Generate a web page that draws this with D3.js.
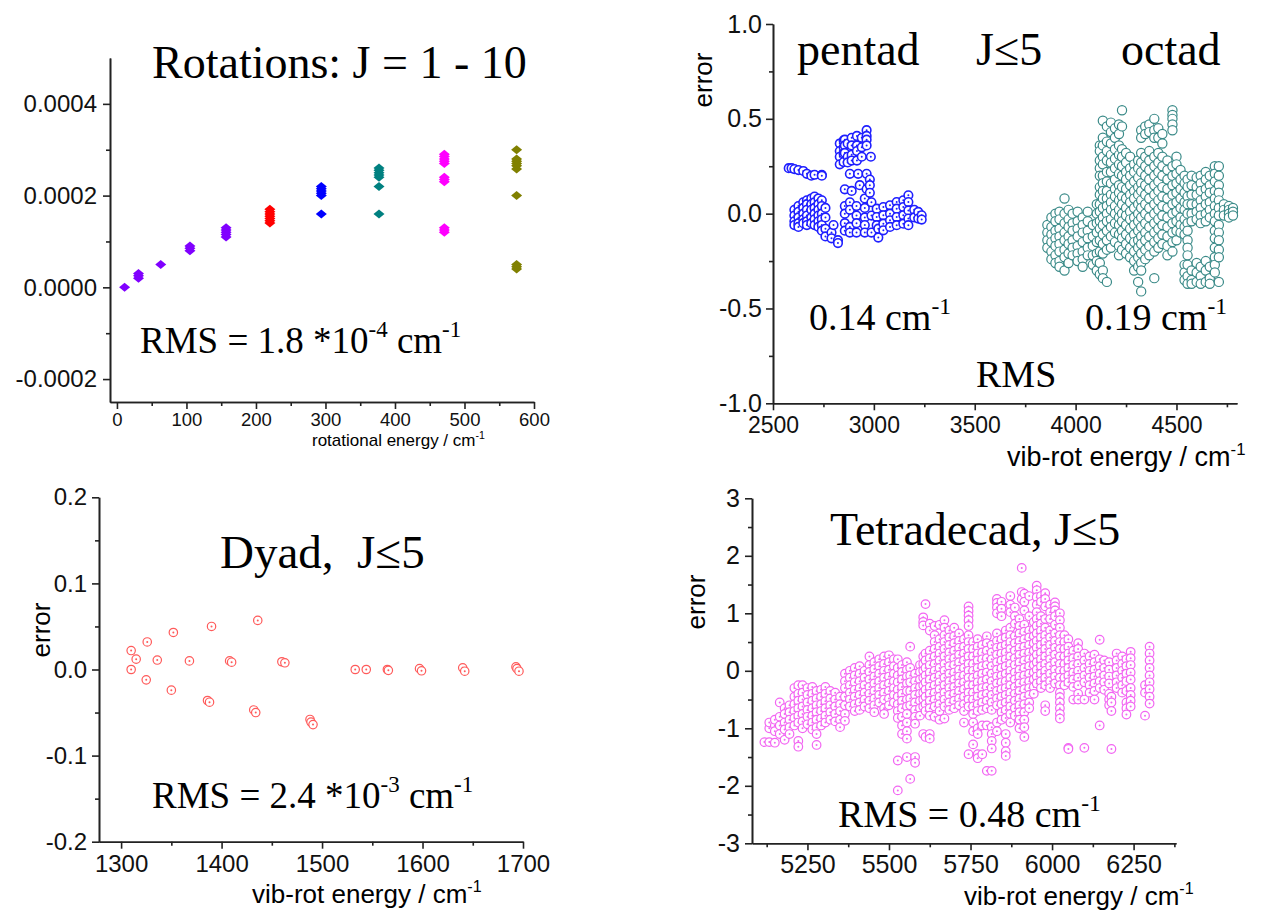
<!DOCTYPE html>
<html>
<head>
<meta charset="utf-8">
<script src="https://cdn.jsdelivr.net/npm/d3@7"></script>
<style>
  body { margin: 0; background: #fff; }
  svg { display: block; }
  .axis path, .axis line { stroke: #222; stroke-width: 1.6; }
  .axis text { fill: #111; font-family: "Liberation Sans", Arial, sans-serif; }
</style>
</head>
<body>
<svg id="chart" width="1262" height="910"></svg>
<script>
// ---- rotations panel (J = 1..10) ----
const rotEnergy = [11, 31, 63, 105, 157, 220, 294, 377, 471, 575];
const rotErrors = [
  [0],
  [0.00002, 0.000025, 0.00003],
  [0.00005],
  [0.00008, 0.000085, 0.00009],
  [0.00011, 0.000115, 0.00012, 0.000125, 0.00013],
  [0.00014, 0.000145, 0.00015, 0.000155, 0.00016, 0.000165, 0.00017],
  [0.00016, 0.0002, 0.000205, 0.00021, 0.000215, 0.00022],
  [0.00016, 0.00022, 0.00024, 0.000245, 0.00025, 0.000255, 0.00026],
  [0.00012, 0.000125, 0.00013, 0.00023, 0.000235, 0.00024, 0.00027, 0.000275, 0.00028, 0.000285, 0.00029],
  [0.00004, 0.000045, 0.00005, 0.0002, 0.000258, 0.000265, 0.00027, 0.000275, 0.00028, 0.0003]
];
const rotColors = ["#8000ff", "#8000ff", "#8000ff", "#8000ff", "#8000ff", "#ff0000", "#0000ff", "#008080", "#ff00ff", "#808000"];

// ---- pentad (energy, errors in that column) ----
const pentadCols = [
  [2578, [0.24]], [2592, [0.24]], [2606, [0.235, 0.02, -0.01, -0.04, -0.06]], [2626, [0.23, 0.04, 0.01, -0.02, -0.05, -0.07]],
  [2650, [0.225, 0.06, 0.03, 0, -0.03, -0.05]], [2668, [0.21, 0.07, 0.05, 0.02, -0.01, -0.04, -0.06]],
  [2690, [0.2, 0.08, 0.05, 0.02, -0.02, -0.05]], [2706, [0.205, 0.09, 0.06, 0.03, 0, -0.03, -0.06]],
  [2725, [0.08, 0.05, 0.02, -0.01, -0.04, -0.07]], [2742, [0.205, 0.2, 0.07, 0.04, 0, -0.03, -0.06, -0.09]],
  [2760, [0.03, -0.02, -0.08, -0.12]], [2790, [-0.1, -0.13]], [2800, [-0.06]], [2822, [-0.14, -0.155]],
  [2831, [0.37, 0.33, 0.3, 0.26]], [2850, [0.386, 0.35, 0.316, 0.272]],
  [2856, [0.39, 0.36, 0.32, 0.128, 0.04, 0, -0.05, -0.09]], [2870, [0.37, 0.3, 0.27]],
  [2881, [0.21, 0.06, 0.02, -0.07, -0.1]], [2890, [0.4, 0.36, 0.31, 0.28, 0.12]],
  [2914, [0.04, -0.01, -0.05, -0.1]], [2916, [0.41, 0.36, 0.33, 0.28]], [2922, [0.21]],
  [2930, [0.15]], [2940, [0.4, 0.35, 0.3]], [2955, [0.08, 0.03, -0.02, -0.06, -0.1]],
  [2964, [0.44, 0.41, 0.39, 0.36, 0.21, 0.13]], [2980, [0.18, 0.15, 0.11]], [2985, [0.3]],
  [2988, [0.06, -0.01, -0.1]], [3014, [0.026, -0.018, -0.061]], [3022, [-0.079, -0.126]],
  [3047, [0.035, -0.009, -0.053, -0.088]], [3080, [0.044, 0, -0.035, -0.07]],
  [3113, [0.061, 0.026, -0.018, -0.061]], [3146, [0.07, 0.035, -0.009, -0.053]],
  [3171, [0.097, 0.061, 0.017, -0.026, -0.061]], [3200, [0.02, -0.02]],
  [3220, [0.009, -0.026]], [3237, [-0.009, -0.031]]
];

// ---- octad ----
const octadCols = [
  [3860, [-0.06, -0.1, -0.14, -0.18]], [3880, [-0.02, -0.07, -0.11, -0.15, -0.2, -0.24]],
  [3900, [0, -0.04, -0.09, -0.13, -0.17, -0.22, -0.26]], [3920, [0.01, -0.03, -0.08, -0.12, -0.16, -0.2, -0.25, -0.28]],
  [3945, [0.08, 0, -0.05, -0.1, -0.14, -0.19, -0.23, -0.3]], [3965, [0.02, -0.03, -0.07, -0.12, -0.16, -0.21, -0.26]],
  [3985, [0, -0.05, -0.09, -0.14, -0.18, -0.22]], [4010, [0.01, -0.04, -0.08, -0.12, -0.17, -0.21, -0.25]],
  [4035, [-0.02, -0.06, -0.1, -0.15, -0.2, -0.24, -0.28]], [4060, [0.01, -0.04, -0.09, -0.13, -0.18, -0.22]],
  [4085, [-0.06, -0.12, -0.17, -0.22, -0.27]], [4105, [0.05, 0, -0.05, -0.1, -0.15, -0.21, -0.25, -0.3]],
  [4120, [0.36, 0.33, 0.28, 0.24, 0.2, 0.14, 0.1, 0.05, 0.01, -0.04, -0.08, -0.14, -0.2, -0.26, -0.32]],
  [4135, [0.49, 0.4, 0.36, 0.3, 0.26, 0.2, 0.16, 0.12, 0.08, 0.03, -0.02, -0.06, -0.11, -0.16, -0.21, -0.3, -0.34]],
  [4155, [0.46, 0.38, 0.33, 0.28, 0.22, 0.17, 0.12, 0.08, 0.04, 0, -0.04, -0.09, -0.14, -0.19, -0.36]],
  [4175, [0.48, 0.43, 0.37, 0.31, 0.27, 0.22, 0.16, 0.1, 0.06, 0.02, -0.03, -0.07, -0.12, -0.18]],
  [4195, [0.45, 0.4, 0.34, 0.29, 0.24, 0.18, 0.13, 0.09, 0.04, 0, -0.05, -0.1, -0.15]],
  [4215, [0.47, 0.42, 0.36, 0.31, 0.26, 0.21, 0.15, 0.11, 0.07, 0.02, -0.02, -0.06, -0.11, -0.17, -0.22]],
  [4230, [0.545, 0.46, 0.34, 0.3, 0.25, 0.2, 0.14, 0.09, 0.05, 0, -0.04, -0.09, -0.13, -0.19]],
  [4250, [0.32, 0.27, 0.22, 0.18, 0.13, 0.08, 0.03, -0.01, -0.06, -0.11, -0.16, -0.21]],
  [4270, [0.3, 0.24, 0.2, 0.15, 0.1, 0.06, 0.01, -0.03, -0.08, -0.13, -0.18, -0.23]],
  [4290, [0.26, 0.22, 0.17, 0.12, 0.08, 0.03, -0.02, -0.06, -0.11, -0.15, -0.2, -0.25, -0.3]],
  [4310, [0.28, 0.24, 0.19, 0.14, 0.1, 0.05, 0, -0.04, -0.09, -0.14, -0.18, -0.23, -0.28, -0.36]],
  [4325, [0.44, 0.4, 0.32, 0.27, 0.22, 0.16, 0.12, 0.07, 0.03, -0.02, -0.07, -0.12, -0.16, -0.21, -0.26, -0.3, -0.41]],
  [4345, [0.46, 0.42, 0.3, 0.25, 0.2, 0.15, 0.1, 0.05, 0, -0.05, -0.1, -0.14, -0.19, -0.24]],
  [4365, [0.47, 0.43, 0.33, 0.28, 0.23, 0.18, 0.13, 0.08, 0.03, -0.02, -0.07, -0.12, -0.17, -0.22]],
  [4390, [0.5, 0.44, 0.4, 0.3, 0.25, 0.2, 0.15, 0.1, 0.05, 0, -0.05, -0.1, -0.15, -0.2, -0.34]],
  [4410, [0.45, 0.4, 0.32, 0.27, 0.22, 0.17, 0.12, 0.07, 0.02, -0.03, -0.08, -0.13, -0.18]],
  [4430, [0.42, 0.37, 0.3, 0.25, 0.2, 0.14, 0.09, 0.04, -0.01, -0.06, -0.11, -0.16]],
  [4455, [0.28, 0.23, 0.18, 0.13, 0.08, 0.03, -0.02, -0.07, -0.12, -0.17, -0.22]],
  [4480, [0.545, 0.52, 0.5, 0.47, 0.44, 0.25, 0.2, 0.15, 0.1, 0.05, 0, -0.05, -0.1, -0.15, -0.2]],
  [4500, [0.3, 0.26, 0.21, 0.16, 0.11, 0.06, 0.01, -0.04, -0.09, -0.14]],
  [4520, [0.23, 0.18, 0.13, 0.08, 0.03, -0.02, -0.06, -0.1]],
  [4540, [0.2, 0.16, 0.11, 0.06, 0.02, -0.03, -0.07, -0.11, -0.27, -0.31, -0.35]],
  [4555, [0.18, 0.14, 0.09, 0.05, 0, -0.05, -0.09, -0.14, -0.18, -0.22, -0.27, -0.33, -0.37]],
  [4575, [0.2, 0.15, 0.1, 0.05, 0, -0.04, -0.3, -0.35, -0.37]],
  [4600, [0.19, 0.14, 0.1, 0.05, 0.01, -0.03, -0.26, -0.31, -0.36]],
  [4620, [0.2, 0.16, 0.12, 0.07, 0.03, -0.01, -0.05, -0.28, -0.33, -0.37]],
  [4645, [0.22, 0.18, 0.13, 0.09, 0.05, 0, -0.04, -0.25, -0.3, -0.36]],
  [4665, [0.2, 0.15, 0.11, 0.06, 0.02, -0.02, -0.28, -0.34, -0.37]],
  [4690, [0.25, 0.21, 0.17, 0.12, 0.08, 0.04, 0, -0.04, -0.09, -0.13, -0.18, -0.23, -0.27, -0.31]],
  [4710, [0.25, 0.2, 0.15, 0.11, 0.07, 0.03, -0.01, -0.06, -0.1, -0.14, -0.19, -0.23, -0.36]],
  [4735, [0.05, 0.02, -0.01]], [4760, [0.04, 0.02, 0, -0.02]], [4780, [0.03, 0.01, -0.01]]
];

// ---- dyad ----
const dyadPoints = [
  [1310, 0.022], [1310, 0], [1315, 0.012], [1326, 0.032], [1325, -0.012], [1336, 0.011],
  [1352, 0.043], [1350, -0.024], [1368, 0.01], [1390, 0.05], [1386, -0.036], [1388, -0.038],
  [1408, 0.01], [1410, 0.0085], [1436, 0.057], [1432, -0.047], [1434, -0.05],
  [1460, 0.009], [1463, 0.0078], [1488, -0.058], [1489, -0.061], [1491, -0.064],
  [1533, 0], [1544, 0], [1565, 0], [1566, -0.001], [1597, 0.001], [1599, -0.0015],
  [1640, 0.002], [1642, -0.002], [1693, 0.003], [1694, 0.001], [1696, -0.002]
];

// ---- tetradecad ----
const tetraCols = [
  [5118, [-1.24]], [5133, [-1.24, -1.0, -0.9]], [5150, [-1.25, -0.95, -0.85, -1.05]],
  [5165, [-0.55, -0.8, -0.95, -1.1]], [5180, [-0.65, -0.75, -0.9, -1.02, -1.2]],
  [5195, [-0.6, -0.72, -0.85, -0.98, -1.1]], [5210, [-0.3, -0.45, -0.58, -0.7, -0.82, -0.95]],
  [5222, [-0.25, -0.4, -0.52, -0.65, -0.78, -0.9, -1.22, -1.32]], [5235, [-0.25, -0.38, -0.5, -0.62, -0.75, -0.88, -1.0]],
  [5250, [-0.3, -0.42, -0.55, -0.68, -0.8, -0.93]], [5265, [-0.28, -0.4, -0.52, -0.65, -0.78, -0.9, -1.02]],
  [5278, [-0.35, -0.48, -0.6, -0.72, -0.85, -0.98, -1.1, -1.29]], [5292, [-0.33, -0.45, -0.58, -0.7, -0.83, -0.95]],
  [5305, [-0.28, -0.4, -0.53, -0.65, -0.78, -0.9]], [5320, [-0.35, -0.48, -0.6, -0.72, -0.85]],
  [5335, [-0.38, -0.5, -0.62, -0.75, -0.88]], [5350, [-0.45, -0.58, -0.7, -0.85, -0.98]],
  [5365, [-0.05, -0.18, -0.3, -0.45, -0.6, -0.75, -0.87]], [5380, [0, -0.12, -0.25, -0.38, -0.5, -0.62]],
  [5395, [0.05, -0.08, -0.2, -0.33, -0.45, -0.58, -0.7]], [5410, [0.08, -0.05, -0.18, -0.3, -0.42, -0.55, -0.68]],
  [5425, [0, -0.12, -0.25, -0.38, -0.5, -0.62]], [5440, [0.25, 0.1, -0.02, -0.15, -0.28, -0.4, -0.52, -0.65]],
  [5455, [0.15, 0.03, -0.1, -0.22, -0.35, -0.48, -0.6, -0.72]], [5470, [0.2, 0.08, -0.05, -0.18, -0.3, -0.42, -0.55]],
  [5485, [0.25, 0.12, 0, -0.12, -0.25, -0.38, -0.5, -0.65, -0.75]], [5500, [0.27, 0.15, 0.02, -0.1, -0.22, -0.35, -0.48, -0.6]],
  [5515, [0.2, 0.08, -0.05, -0.18, -0.3, -0.42, -0.55]],
  [5527, [0.2, 0.05, -0.08, -0.2, -0.33, -0.45, -0.58, -0.7, -0.82, -1.56, -2.08]],
  [5540, [0.1, -0.02, -0.15, -0.28, -0.4, -0.52, -0.65, -0.8, -0.95, -1.1]],
  [5555, [0.15, 0.02, -0.1, -0.22, -0.35, -0.5, -0.62, -0.75, -0.9, -1.05, -1.18, -1.5]],
  [5565, [0.42, 0.05, -0.08, -0.2, -0.35, -0.48, -0.6, -1.88]],
  [5580, [-0.05, -0.18, -0.3, -0.42, -0.55, -0.68, -0.8, -0.92, -1.5, -1.6]],
  [5595, [0.1, -0.02, -0.15, -0.28, -0.4, -0.52, -0.65, -0.78]],
  [5605, [0.93, 0.85, 0.79, 0.25, 0.12, 0, -0.12, -0.25, -0.38, -0.5, -0.62, -1.1]],
  [5612, [1.16, 0.3, 0.18, 0.05, -0.08, -0.2, -0.33, -0.45, -0.58, -0.7, -1.15]],
  [5625, [0.82, 0.7, 0.35, 0.22, 0.1, -0.03, -0.15, -0.28, -0.4, -0.52, -0.65, -0.78, -1.1, -1.18]],
  [5640, [0.78, 0.62, 0.5, 0.38, 0.25, 0.12, 0, -0.12, -0.25, -0.38, -0.5, -0.62, -0.8]],
  [5655, [0.8, 0.55, 0.42, 0.3, 0.18, 0.05, -0.08, -0.2, -0.32, -0.45, -0.58, -0.7, -0.85]],
  [5670, [0.88, 0.75, 0.62, 0.5, 0.38, 0.25, 0.12, 0, -0.12, -0.25, -0.38, -0.5, -0.62, -0.83]],
  [5685, [0.7, 0.58, 0.45, 0.32, 0.2, 0.08, -0.05, -0.18, -0.3, -0.42, -0.55, -0.68]],
  [5700, [0.75, 0.6, 0.48, 0.35, 0.22, 0.1, -0.03, -0.15, -0.28, -0.4, -0.52, -0.65]],
  [5715, [0.65, 0.52, 0.4, 0.28, 0.15, 0.02, -0.1, -0.22, -0.35, -0.48, -0.6]],
  [5730, [0.55, 0.42, 0.3, 0.18, 0.05, -0.08, -0.2, -0.32, -0.45, -0.58, -0.7, -0.9]],
  [5744, [1.12, 1.04, 0.96, 0.88, 0.78, 0.62, 0.5, 0.38, 0.25, 0.12, 0, -0.12, -0.25, -0.38, -0.5, -0.62, -1.45]],
  [5758, [0.5, 0.38, 0.25, 0.12, 0, -0.12, -0.25, -0.38, -0.5, -0.62, -0.75, -0.9, -1.05, -1.28]],
  [5772, [0.55, 0.42, 0.3, 0.18, 0.05, -0.08, -0.2, -0.32, -0.45, -0.58, -0.7, -1.0, -1.1, -1.45, -1.52]],
  [5786, [0.45, 0.32, 0.2, 0.08, -0.05, -0.18, -0.3, -0.42, -0.55, -0.68, -0.95, -1.45]],
  [5800, [0.6, 0.48, 0.35, 0.22, 0.1, -0.03, -0.15, -0.28, -0.4, -0.52, -0.65, -0.95, -1.74]],
  [5815, [0.45, 0.32, 0.2, 0.08, -0.05, -0.18, -0.3, -0.42, -0.55, -0.68, -0.98, -1.1, -1.22, -1.35, -1.74]],
  [5831, [1.25, 1.18, 1.1, 1.0, 0.65, 0.52, 0.4, 0.28, 0.15, 0.02, -0.1, -0.22, -0.35, -0.48, -0.6, -0.9, -1.05]],
  [5845, [1.2, 1.08, 0.95, 0.55, 0.42, 0.3, 0.18, 0.05, -0.08, -0.2, -0.32, -0.45, -0.58, -0.72, -0.85]],
  [5858, [0.7, 0.58, 0.45, 0.32, 0.2, 0.08, -0.05, -0.18, -0.3, -0.42, -0.55, -0.68, -0.82, -1.1, -1.25, -1.4, -1.48]],
  [5872, [1.3, 1.15, 1.02, 0.75, 0.62, 0.5, 0.38, 0.25, 0.12, 0, -0.12, -0.25, -0.38, -0.5, -0.62, -0.75, -0.9]],
  [5886, [1.1, 0.95, 0.82, 0.6, 0.48, 0.35, 0.22, 0.1, -0.03, -0.15, -0.28, -0.4, -0.52, -0.65, -0.78]],
  [5900, [0.9, 0.78, 0.65, 0.52, 0.4, 0.28, 0.15, 0.02, -0.1, -0.22, -0.35, -0.48, -0.6, -0.72, -0.85, -1.0]],
  [5907, [1.79, 1.37, 1.25]],
  [5915, [1.34, 1.2, 1.05, 0.8, 0.68, 0.55, 0.42, 0.3, 0.18, 0.05, -0.08, -0.2, -0.32, -0.45, -0.58, -0.72, -0.85, -0.98, -1.15]],
  [5930, [1.3, 0.95, 0.7, 0.58, 0.45, 0.32, 0.2, 0.08, -0.05, -0.18, -0.3, -0.42, -0.55, -0.65]],
  [5944, [0.85, 0.72, 0.6, 0.48, 0.35, 0.22, 0.1, -0.03, -0.15, -0.28, -0.4]],
  [5953, [1.48, 1.4, 1.28, 1.15, 1.02, 0.9, 0.78, 0.65, 0.52, 0.4, 0.28, 0.15, 0.02, -0.1, -0.22]],
  [5966, [1.3, 1.2, 0.95, 0.82, 0.7, 0.58, 0.45, 0.32, 0.2, 0.08, -0.05, -0.18, -0.3]],
  [5979, [1.35, 1.25, 1.12, 0.9, 0.75, 0.62, 0.5, 0.38, 0.25, 0.12, 0, -0.12, -0.25, -0.6, -0.7]],
  [5994, [1.15, 1.02, 0.9, 0.7, 0.58, 0.45, 0.32, 0.2, 0.08, -0.05, -0.18, -0.3]],
  [6009, [1.19, 1.12, 1.05, 0.95, 0.8, 0.65, 0.52, 0.4, 0.28, 0.15, 0.02, -0.1, -0.22]],
  [6024, [1.0, 0.88, 0.75, 0.62, 0.5, 0.38, 0.25, 0.12, 0, -0.12, -0.25, -0.38, -0.46, -0.55, -0.65, -0.75, -0.83]],
  [6038, [0.62, 0.5, 0.38, 0.25, 0.12, 0, -0.12, -0.25]],
  [6050, [0.55, 0.42, 0.3, 0.18, 0.05, -0.08, -0.2, -1.34, -1.36]],
  [6065, [0.35, 0.22, 0.1, -0.03, -0.15, -0.28, -0.5]], [6080, [0.48, 0.38, 0.25, 0.12, 0, -0.12, -0.25, -0.4, -0.5]],
  [6099, [0.3, 0.18, 0.05, -0.08, -0.2, -0.5, -1.34]], [6115, [0.25, 0.12, 0, -0.12, -0.25, -0.38]],
  [6130, [0.28, 0.15, 0.02, -0.1, -0.22, -0.35, -0.5]], [6146, [0.54, 0.2, 0.08, -0.05, -0.18, -0.3, -0.95]],
  [6160, [0.18, 0.05, -0.08, -0.2, -0.33]], [6175, [0.15, 0.02, -0.1, -0.22, -0.4, -0.5, -0.6]],
  [6182, [-0.45, -0.55, -0.7, -1.36]], [6198, [0.3, 0.18, 0.05, -0.08, -0.2, -0.3]],
  [6215, [0.25, 0.12, 0, -0.12, -0.25, -0.38]], [6228, [0.2, 0.08, -0.05, -0.18, -0.35, -0.55, -0.65, -0.76]],
  [6241, [0.33, 0.22, 0.1, -0.03, -0.15, -0.3, -0.42, -0.52, -0.62]],
  [6285, [-0.25, -0.38, -0.78]], [6299, [0.42, 0.3, 0.18, 0.05, -0.08, -0.2, -0.32, -0.45, -0.57]]
];

const serif = '"Liberation Serif", "Times New Roman", serif';
const sans = '"Liberation Sans", Arial, sans-serif';
const svg = d3.select("#chart");

const flatten = cols => cols.flatMap(([e, errs]) => errs.map(v => [e, v]));

// text with superscripts: parts = [[string, isSup], ...]
function richText(x, y, size, parts, family) {
  const t = svg.append("text")
    .attr("x", x).attr("y", y)
    .style("font-family", family || serif)
    .style("font-size", size + "px")
    .style("white-space", "pre")
    .attr("fill", "#000");
  let raised = false;
  parts.forEach(([s, sup]) => {
    const span = t.append("tspan").text(s);
    if (sup && !raised) { span.attr("dy", -size * 0.42).style("font-size", (size * 0.62) + "px"); raised = true; }
    else if (sup) { span.style("font-size", (size * 0.62) + "px"); }
    else if (raised) { span.attr("dy", size * 0.42); raised = false; }
  });
  return t;
}

function makeAxes(p) {
  const x = d3.scaleLinear().domain(p.xDomain).range([p.left, p.right]);
  const y = d3.scaleLinear().domain(p.yDomain).range([p.bottom, p.top]);

  svg.append("g").attr("class", "axis").attr("transform", `translate(0,${p.bottom})`)
    .call(d3.axisBottom(x).tickValues(p.xMinor).tickSize(4).tickFormat("").tickSizeOuter(0));
  svg.append("g").attr("class", "axis").attr("transform", `translate(0,${p.bottom})`)
    .call(d3.axisBottom(x).tickValues(p.xTicks).tickSize(7).tickPadding(p.xPad).tickSizeOuter(0).tickFormat(p.xFmt))
    .selectAll("text").style("font-size", p.xFont + "px");

  svg.append("g").attr("class", "axis").attr("transform", `translate(${p.left},0)`)
    .call(d3.axisLeft(y).tickValues(p.yMinor).tickSize(4).tickFormat("").tickSizeOuter(0));
  svg.append("g").attr("class", "axis").attr("transform", `translate(${p.left},0)`)
    .call(d3.axisLeft(y).tickValues(p.yTicks).tickSize(7).tickPadding(p.yPad).tickSizeOuter(0).tickFormat(p.yFmt))
    .selectAll("text").style("font-size", p.yFont + "px");
  return { x, y };
}

function ringPoints(pts, sc, color, r, sw, dot) {
  const g = svg.append("g");
  pts.forEach(d => {
    const cx = sc.x(d[0]), cy = sc.y(d[1]);
    g.append("circle").attr("cx", cx).attr("cy", cy).attr("r", r)
      .attr("fill", "#fff").attr("stroke", color).attr("stroke-width", sw);
    if (dot) g.append("circle").attr("cx", cx).attr("cy", cy).attr("r", 1).attr("fill", color);
  });
}

function errorLabel(x, y) {
  svg.append("text").attr("transform", `translate(${x},${y}) rotate(-90)`)
    .attr("text-anchor", "middle").style("font-family", sans).style("font-size", "26px").text("error");
}

// ---------- top-left: rotations ----------
const s1 = makeAxes({
  left: 110, right: 534, top: 58, bottom: 402,
  xDomain: [-10, 600], yDomain: [-0.00025, 0.0005],
  xTicks: d3.range(0, 601, 100), xMinor: d3.range(50, 600, 100),
  yTicks: [-0.0002, 0, 0.0002, 0.0004], yMinor: [-0.0001, 0.0001, 0.0003],
  xFmt: d => String(d), yFmt: d => d.toFixed(4),
  xFont: 18.5, yFont: 24, xPad: 4, yPad: 6
});
const diamond = "M0,-4.5L5.5,0L0,4.5L-5.5,0Z";
rotEnergy.forEach((e, i) => {
  svg.append("g").selectAll("path").data(rotErrors[i]).join("path")
    .attr("d", diamond)
    .attr("transform", v => `translate(${s1.x(e)},${s1.y(v)})`)
    .attr("fill", rotColors[i]);
});
richText(152, 78, 46, [["Rotations: J = 1 - 10"]]);
richText(140, 353, 37, [["RMS = 1.8 *10"], ["-4", true], [" cm"], ["-1", true]]);
richText(312, 446, 17, [["rotational energy / cm"], ["-1", true]], sans);

// ---------- top-right: pentad / octad ----------
const s2 = makeAxes({
  left: 773, right: 1237, top: 24, bottom: 403.3,
  xDomain: [2500, 4800], yDomain: [-1, 1],
  xTicks: d3.range(2500, 4501, 500), xMinor: d3.range(2750, 4800, 500),
  yTicks: [-1, -0.5, 0, 0.5, 1], yMinor: [-0.75, -0.25, 0.25, 0.75],
  xFmt: d => String(d), yFmt: d => d.toFixed(1),
  xFont: 23, yFont: 25, xPad: 6, yPad: 4
});
ringPoints(flatten(pentadCols), s2, "#1f1fff", 4.3, 1.6, true);
ringPoints(flatten(octadCols), s2, "#3a8a88", 4.6, 1.2, false);
errorLabel(712, 80);
richText(797, 65, 46, [["pentad"]]);
richText(976, 65, 46, [["J≤5"]]);
richText(1121, 65, 46, [["octad"]]);
richText(809, 330, 38, [["0.14 cm"], ["-1", true]]);
richText(1085, 330, 38, [["0.19 cm"], ["-1", true]]);
richText(976, 387, 38, [["RMS"]]);
richText(1007, 466, 27, [["vib-rot energy / cm"], ["-1", true]], sans);

// ---------- bottom-left: dyad ----------
const s3 = makeAxes({
  left: 99, right: 523, top: 497.3, bottom: 841.7,
  xDomain: [1278, 1700], yDomain: [-0.2, 0.2],
  xTicks: d3.range(1300, 1701, 100), xMinor: d3.range(1350, 1700, 100),
  yTicks: [-0.2, -0.1, 0, 0.1, 0.2], yMinor: [-0.15, -0.05, 0.05, 0.15],
  xFmt: d => String(d), yFmt: d => d.toFixed(1),
  xFont: 24, yFont: 24, xPad: 6, yPad: 5
});
ringPoints(dyadPoints, s3, "#ff5a5a", 4.2, 1.2, true);
errorLabel(50, 630);
richText(220, 568, 47, [["Dyad,  J≤5"]]);
richText(152, 808, 37, [["RMS = 2.4 *10"], ["-3", true], [" cm"], ["-1", true]]);
richText(252, 903, 26, [["vib-rot energy / cm"], ["-1", true]], sans);

// ---------- bottom-right: tetradecad ----------
const s4 = makeAxes({
  left: 752, right: 1176, top: 498.3, bottom: 843.3,
  xDomain: [5080, 6380], yDomain: [-3, 3],
  xTicks: d3.range(5250, 6251, 250), xMinor: d3.range(5125, 6380, 250),
  yTicks: d3.range(-3, 4, 1), yMinor: d3.range(-2.5, 3, 1),
  xFmt: d => String(d), yFmt: d => String(d),
  xFont: 25, yFont: 25, xPad: 5, yPad: 5
});
ringPoints(flatten(tetraCols), s4, "#f266f2", 4.3, 1.2, true);
errorLabel(705, 602);
richText(830, 545, 46, [["Tetradecad, J≤5"]]);
richText(838, 827, 38, [["RMS = 0.48 cm"], ["-1", true]]);
richText(964, 905, 26, [["vib-rot energy / cm"], ["-1", true]], sans);
</script>
</body>
</html>
